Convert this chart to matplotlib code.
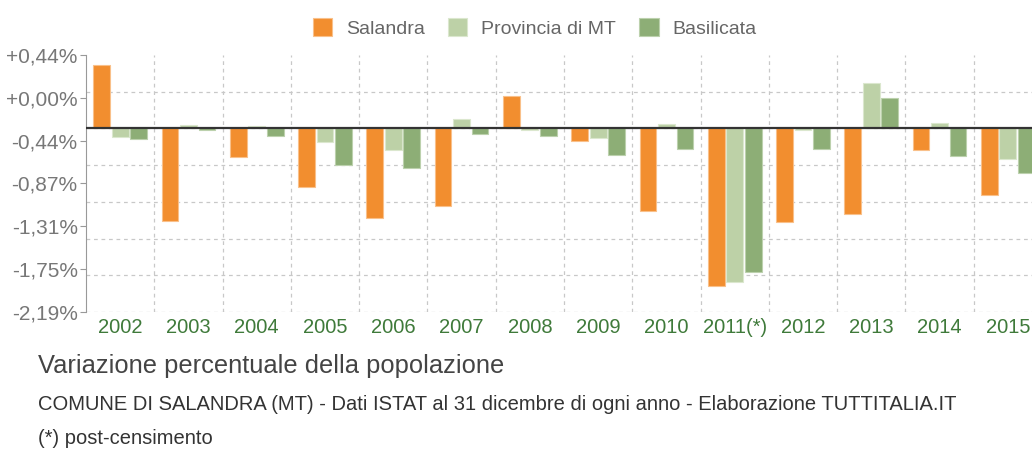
import numpy as np
import matplotlib
matplotlib.use("Agg")
import matplotlib.pyplot as plt

plt.rcParams['font.family'] = ['Liberation Sans', 'DejaVu Sans']

years = ["2002", "2003", "2004", "2005", "2006", "2007", "2008",
         "2009", "2010", "2011(*)", "2012", "2013", "2014", "2015"]
salandra = [0.65, -0.95, -0.29, -0.60, -0.92, -0.79, 0.33,
            -0.13, -0.85, -1.61, -0.96, -0.88, -0.22, -0.68]
provincia = [-0.09, 0.04, 0.02, -0.14, -0.22, 0.10, -0.02,
             -0.10, 0.05, -1.57, -0.02, 0.46, 0.06, -0.31]
basilicata = [-0.11, -0.02, -0.08, -0.37, -0.41, -0.06, -0.08,
              -0.27, -0.21, -1.47, -0.21, 0.31, -0.28, -0.46]
series_names = ["Salandra", "Provincia di MT", "Basilicata"]
ytick_labels = ["+0,44%", "+0,00%", "-0,44%", "-0,87%", "-1,31%", "-1,75%", "-2,19%"]
ytick_values = [0.44, 0.00, -0.44, -0.87, -1.31, -1.75, -2.19]

colors = ["#f28e2f", "#bdd1a7", "#8dae76"]
edge_colors = ["#f9c08a", "#dbe7ce", "#bcd1ad"]

fig = plt.figure(figsize=(10.32, 4.49), dpi=100)
ax = fig.add_axes([86 / 1032, 137 / 449, 956 / 1032, 257 / 449])

ymin, ymax = -2.19, 0.44
grid_y = np.linspace(ymin, ymax, 8)
base = grid_y[5]  # the black zero line

x = np.arange(len(years))
offsets = [-0.27, 0.0, 0.27]
for vals, off, c, ec, name in zip([salandra, provincia, basilicata], offsets,
                                  colors, edge_colors, series_names):
    ax.bar(x + off, vals, width=0.245, bottom=base, color=c,
           edgecolor=ec, linewidth=0.8, label=name, zorder=3)

# grid
for gy in grid_y[:7]:
    ax.axhline(gy, color="#c8c8c8", lw=0.9, ls=(0, (3, 3)), zorder=1)
for gx in np.arange(0.5, len(years) - 0.5, 1.0):
    ax.axvline(gx, color="#c8c8c8", lw=0.9, ls=(0, (3, 3)), zorder=1)
ax.axhline(base, color="#333333", lw=1.6, zorder=4)

ax.set_xlim(-0.5, len(years) - 0.5)
ax.set_ylim(ymin, ymax)
ax.set_yticks(ytick_values)
ax.set_yticklabels(ytick_labels, fontsize=15, color="#777777")
ax.set_xticks(x)
ax.set_xticklabels(years, fontsize=14.5, color="#3f7a3a")
ax.tick_params(axis="x", length=0, pad=4)
ax.tick_params(axis="y", length=4, color="#999999", pad=2)

for side in ["top", "right", "bottom"]:
    ax.spines[side].set_visible(False)
ax.spines["left"].set_color("#999999")

fig.legend(loc="center", bbox_to_anchor=(0.518, 0.938), ncol=3, frameon=False,
           fontsize=14, labelcolor="#666666", handlelength=1.0,
           handleheight=1.05, handletextpad=0.7, columnspacing=1.2)

fig.text(38 / 1032, 1 - 366 / 449, "Variazione percentuale della popolazione",
         fontsize=18.4, color="#444444", va="center")
fig.text(38 / 1032, 1 - 405 / 449,
         "COMUNE DI SALANDRA (MT) - Dati ISTAT al 31 dicembre di ogni anno - Elaborazione TUTTITALIA.IT",
         fontsize=14.5, color="#333333", va="center")
fig.text(38 / 1032, 1 - 438 / 449, "(*) post-censimento",
         fontsize=14.5, color="#333333", va="center")

fig.savefig("out.png", dpi=100, facecolor="white")
